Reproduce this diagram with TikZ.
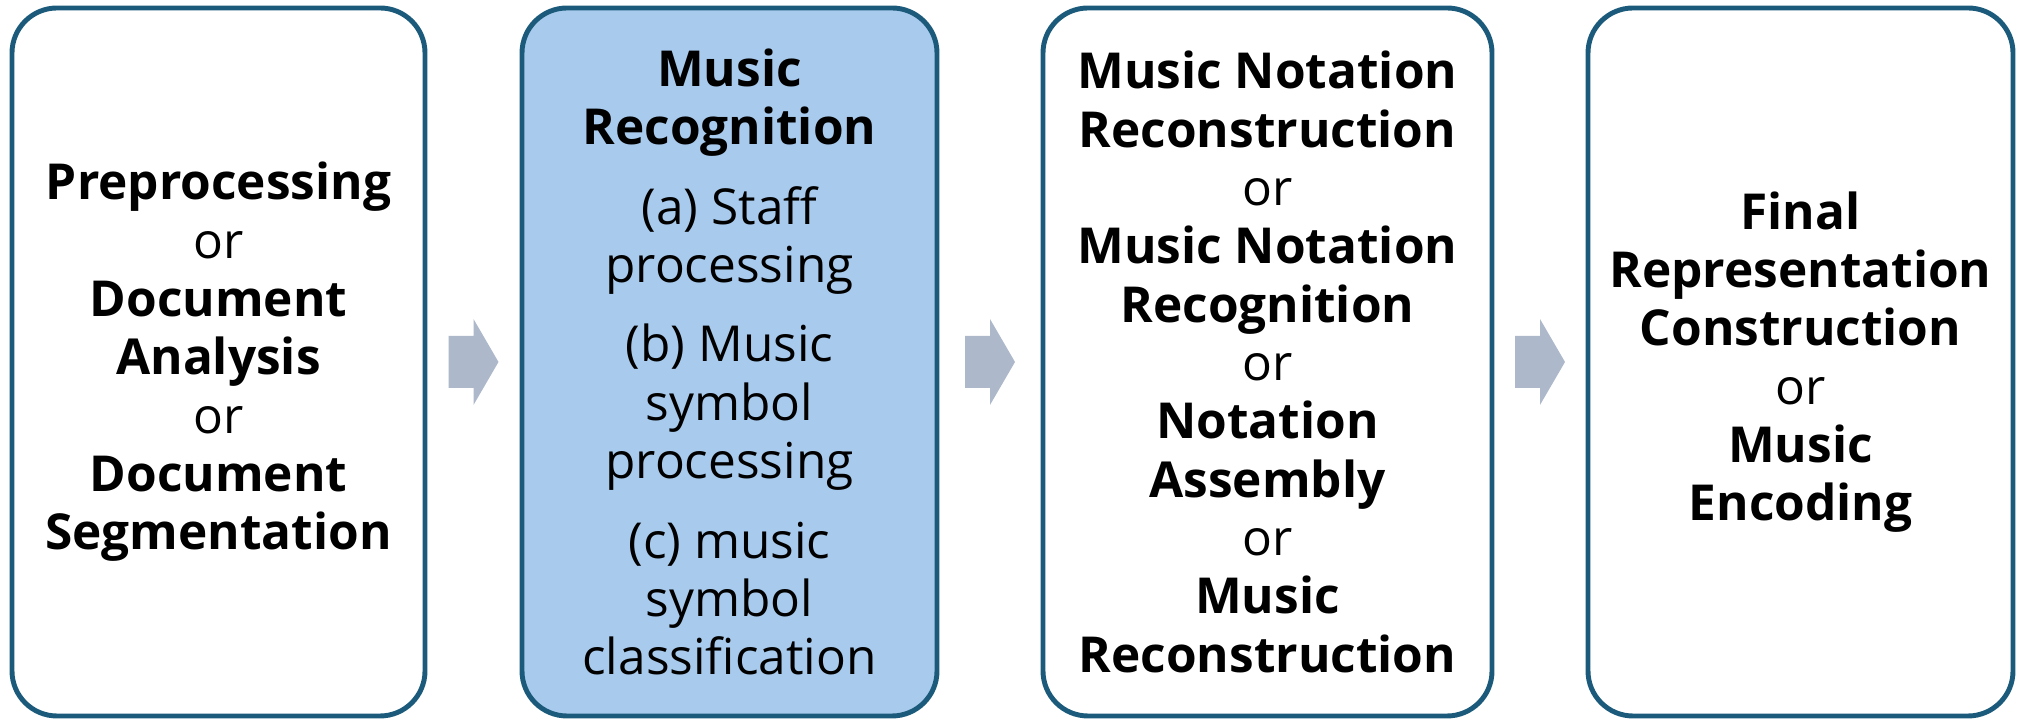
\documentclass[tikz,border=0pt]{standalone}
\usepackage{fontspec}
\setmainfont{Open Sans}
\usetikzlibrary{positioning}

\definecolor{stageblue}{HTML}{1B5A7A}
\definecolor{stagefill}{HTML}{A8CAEC}
\definecolor{arrowgray}{HTML}{ADB9CA}

\tikzset{
	stage/.style={draw=stageblue, line width=1.4pt, rounded corners=0.45cm, fill=white,
		minimum width=#1, minimum height=7.08cm, align=center, inner sep=0pt,
		font=\fontsize{14.1}{16.6}\selectfont},
}

\begin{document}
\begin{tikzpicture}
	\useasboundingbox (0,0) rectangle (20.2,7.22);

	\node[stage=4.13cm] (prep) at (2.185,3.60)
		{\textbf{Preprocessing}\\or\\\textbf{Document}\\\textbf{Analysis}\\or\\\textbf{Document}\\\textbf{Segmentation}};
	\node[stage=4.15cm, fill=stagefill] (recog) at (7.295,3.60)
		{\textbf{Music}\\\textbf{Recognition}\\[6pt]
		(a) Staff\\processing\\[6pt]
		(b) Music\\symbol\\processing\\[6pt]
		(c) music\\symbol\\classification};
	\node[stage=4.49cm] (recon) at (12.675,3.60)
		{\textbf{Music Notation}\\\textbf{Reconstruction}\\or\\\textbf{Music Notation}\\\textbf{Recognition}\\or\\\textbf{Notation}\\\textbf{Assembly}\\or\\\textbf{Music}\\\textbf{Reconstruction}};
	\node[stage=4.25cm] (final) at (18.005,3.60)
		{\textbf{Final}\\\textbf{Representation}\\\textbf{Construction}\\or\\\textbf{Music}\\\textbf{Encoding}};

	% block arrows between the stages
	\foreach \a/\b in {prep/recog, recog/recon, recon/final} {
		\path (\a.east) -- (\b.west) coordinate[midway] (m);
		\fill[arrowgray] ([shift={(-0.25,-0.26)}]m) -- ++(0.25,0) -- ++(0,-0.17) -- ++(0.25,0.43)
			-- ++(-0.25,0.43) -- ++(0,-0.17) -- ++(-0.25,0) -- cycle;
	}
\end{tikzpicture}
\end{document}
